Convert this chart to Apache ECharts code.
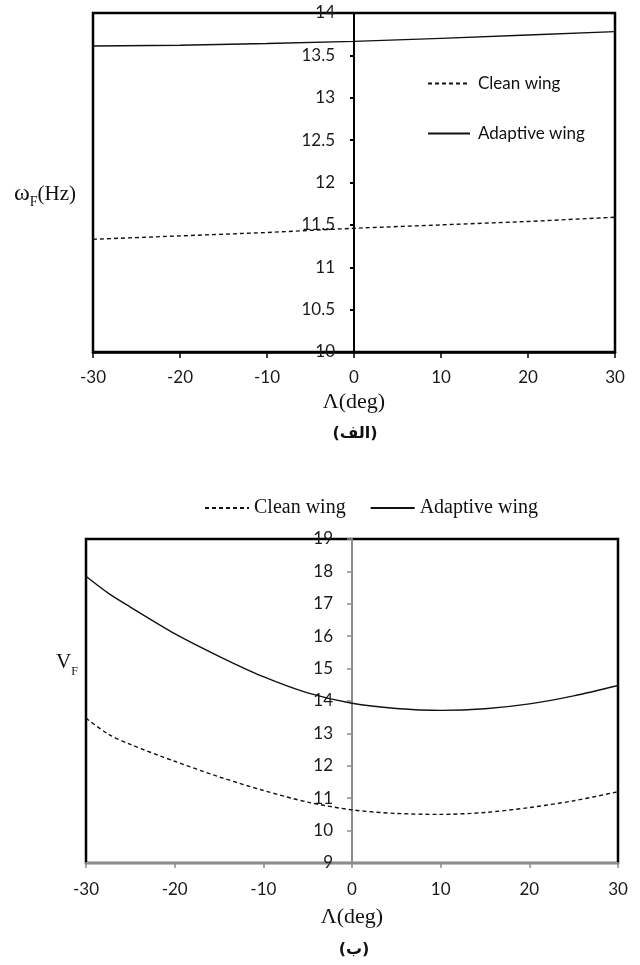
<!DOCTYPE html>
<html>
<head>
<meta charset="utf-8">
<script src="https://cdn.jsdelivr.net/npm/echarts@6/dist/echarts.min.js"></script>
<style>
  html, body { margin: 0; padding: 0; background: #fff; }
  #chart { width: 640px; height: 965px; }
</style>
</head>
<body>
<div id="chart"></div>
<script>
// Sweep angle Λ (deg) and flutter frequency ω_F (Hz)
const angleTop = [-30, -20, -10, 0, 10, 20, 30];
const omegaClean = [11.33, 11.37, 11.41, 11.46, 11.50, 11.54, 11.59];
const omegaAdaptive = [13.61, 13.62, 13.64, 13.665, 13.70, 13.74, 13.78];

// Sweep angle Λ (deg) and flutter speed V_F
const angleBottom = [-30, -27.5, -25, -20, -15, -10, -5, 0, 5, 10, 15, 20, 25, 30];
const speedClean = [13.47, 12.98, 12.66, 12.14, 11.66, 11.24, 10.88, 10.64, 10.53, 10.50, 10.56, 10.71, 10.92, 11.20];
const speedAdaptive = [17.85, 17.33, 16.90, 16.08, 15.38, 14.75, 14.25, 13.93, 13.77, 13.71, 13.76, 13.91, 14.16, 14.48];

const seriesNames = ['Clean wing', 'Adaptive wing'];
const xTicks = { min: -30, max: 30, interval: 10 };

const pairs = (xs, ys) => xs.map((x, i) => [x, ys[i]]);

const sansFont = 'Lato';
const serifFont = 'Liberation Serif';
const tickFontSize = 17;

const chart = echarts.init(document.getElementById('chart'), null, { renderer: 'canvas' });

const dash = [4, 3];

// plot areas (px)
const topGrid = { left: 93, right: 25, top: 13, height: 339 };
const botGrid = { left: 86, right: 22, top: 539, height: 324 };
const topWidth = 640 - topGrid.left - topGrid.right;
const botWidth = 640 - botGrid.left - botGrid.right;

chart.setOption({
  animation: false,
  backgroundColor: '#fff',
  grid: [
    { ...topGrid, show: true, borderColor: '#000', borderWidth: 2.5, backgroundColor: '#fff' },
    { ...botGrid, show: true, borderColor: '#000', borderWidth: 2.5, backgroundColor: '#fff' }
  ],
  legend: [
    {
      data: seriesNames,
      orient: 'vertical',
      left: 422, top: 70,
      itemWidth: 42, itemHeight: 14, itemGap: 33,
      itemStyle: { opacity: 0 },
      textStyle: { fontFamily: sansFont, fontSize: 17, color: '#111', padding: [0, 0, 0, 3] },
      selectedMode: false
    },
    {
      data: seriesNames,
      orient: 'horizontal',
      left: 199, top: 493,
      itemWidth: 44, itemHeight: 14, itemGap: 24,
      itemStyle: { opacity: 0 },
      textStyle: { fontFamily: serifFont, fontSize: 20, color: '#111' },
      selectedMode: false
    }
  ],
  xAxis: [
    {
      gridIndex: 0, type: 'value', ...xTicks,
      axisLine: { lineStyle: { color: '#000', width: 2.5 } },
      axisTick: { length: 6, lineStyle: { color: '#000', width: 1.5 } },
      axisLabel: { margin: 17, fontFamily: sansFont, fontSize: tickFontSize, color: '#1a1a1a' },
      splitLine: { show: false },
      name: 'Λ(deg)', nameLocation: 'middle', nameGap: 50,
      nameTextStyle: { fontFamily: serifFont, fontSize: 22, color: '#111', verticalAlign: 'middle' }
    },
    {
      gridIndex: 1, type: 'value', ...xTicks,
      axisLine: { lineStyle: { color: '#8c8c8c', width: 2 } },
      axisTick: { length: 5, lineStyle: { color: '#8c8c8c', width: 1.5 } },
      axisLabel: { margin: 18, fontFamily: sansFont, fontSize: tickFontSize, color: '#1a1a1a' },
      splitLine: { show: false },
      name: 'Λ(deg)', nameLocation: 'middle', nameGap: 54,
      nameTextStyle: { fontFamily: serifFont, fontSize: 22, color: '#111', verticalAlign: 'middle' }
    }
  ],
  yAxis: [
    {
      // axis sits at Λ = 0, the middle of the plot
      gridIndex: 0, type: 'value', min: 10, max: 14, interval: 0.5,
      offset: -topWidth / 2,
      axisLine: { onZero: false, lineStyle: { color: '#000', width: 2 } },
      axisTick: { length: 4, lineStyle: { color: '#000', width: 2 } },
      axisLabel: { margin: 19, fontFamily: sansFont, fontSize: tickFontSize, color: '#1a1a1a' },
      splitLine: { show: false }
    },
    {
      gridIndex: 1, type: 'value', min: 9, max: 19, interval: 1,
      offset: -botWidth / 2,
      axisLine: { onZero: false, lineStyle: { color: '#8c8c8c', width: 2 } },
      axisTick: { length: 5, lineStyle: { color: '#8c8c8c', width: 1.5 } },
      axisLabel: { margin: 19, fontFamily: sansFont, fontSize: tickFontSize, color: '#1a1a1a' },
      splitLine: { show: false }
    }
  ],
  series: [
    {
      name: seriesNames[0], type: 'line', xAxisIndex: 0, yAxisIndex: 0,
      data: pairs(angleTop, omegaClean), symbol: 'none',
      lineStyle: { color: '#111', width: 1.4, type: dash }, itemStyle: { color: '#111' }
    },
    {
      name: seriesNames[1], type: 'line', xAxisIndex: 0, yAxisIndex: 0,
      data: pairs(angleTop, omegaAdaptive), symbol: 'none',
      lineStyle: { color: '#111', width: 1.4 }, itemStyle: { color: '#111' }
    },
    {
      name: seriesNames[0], type: 'line', xAxisIndex: 1, yAxisIndex: 1,
      data: pairs(angleBottom, speedClean), symbol: 'none', smooth: 0.3,
      lineStyle: { color: '#111', width: 1.4, type: dash }, itemStyle: { color: '#111' }
    },
    {
      name: seriesNames[1], type: 'line', xAxisIndex: 1, yAxisIndex: 1,
      data: pairs(angleBottom, speedAdaptive), symbol: 'none', smooth: 0.3,
      lineStyle: { color: '#111', width: 1.4 }, itemStyle: { color: '#111' }
    }
  ],
  graphic: [
    {
      type: 'text', left: 14, top: 182,
      style: {
        text: '{w|ω}{s|F}{h|(Hz)}',
        rich: {
          w: { fontFamily: serifFont, fontSize: 24, fill: '#111', lineHeight: 30, verticalAlign: 'middle' },
          s: { fontFamily: serifFont, fontSize: 14, fill: '#111', lineHeight: 30, verticalAlign: 'bottom' },
          h: { fontFamily: serifFont, fontSize: 21, fill: '#111', lineHeight: 30, verticalAlign: 'middle' }
        }
      }
    },
    {
      type: 'text', left: 56, top: 652,
      style: {
        text: '{v|V}{s|F}',
        rich: {
          v: { fontFamily: serifFont, fontSize: 21, fill: '#111', lineHeight: 30, verticalAlign: 'middle' },
          s: { fontFamily: serifFont, fontSize: 12, fill: '#111', lineHeight: 30, verticalAlign: 'bottom' }
        }
      }
    },
    {
      type: 'text', x: 355, y: 434,
      style: { text: '(الف)', fontFamily: 'DejaVu Sans', fontSize: 16, fontWeight: 'bold', fill: '#111', align: 'center', verticalAlign: 'middle' }
    },
    {
      type: 'text', x: 354, y: 950,
      style: { text: '(ب)', fontFamily: 'DejaVu Sans', fontSize: 16, fontWeight: 'bold', fill: '#111', align: 'center', verticalAlign: 'middle' }
    }
  ]
});
</script>
</body>
</html>
